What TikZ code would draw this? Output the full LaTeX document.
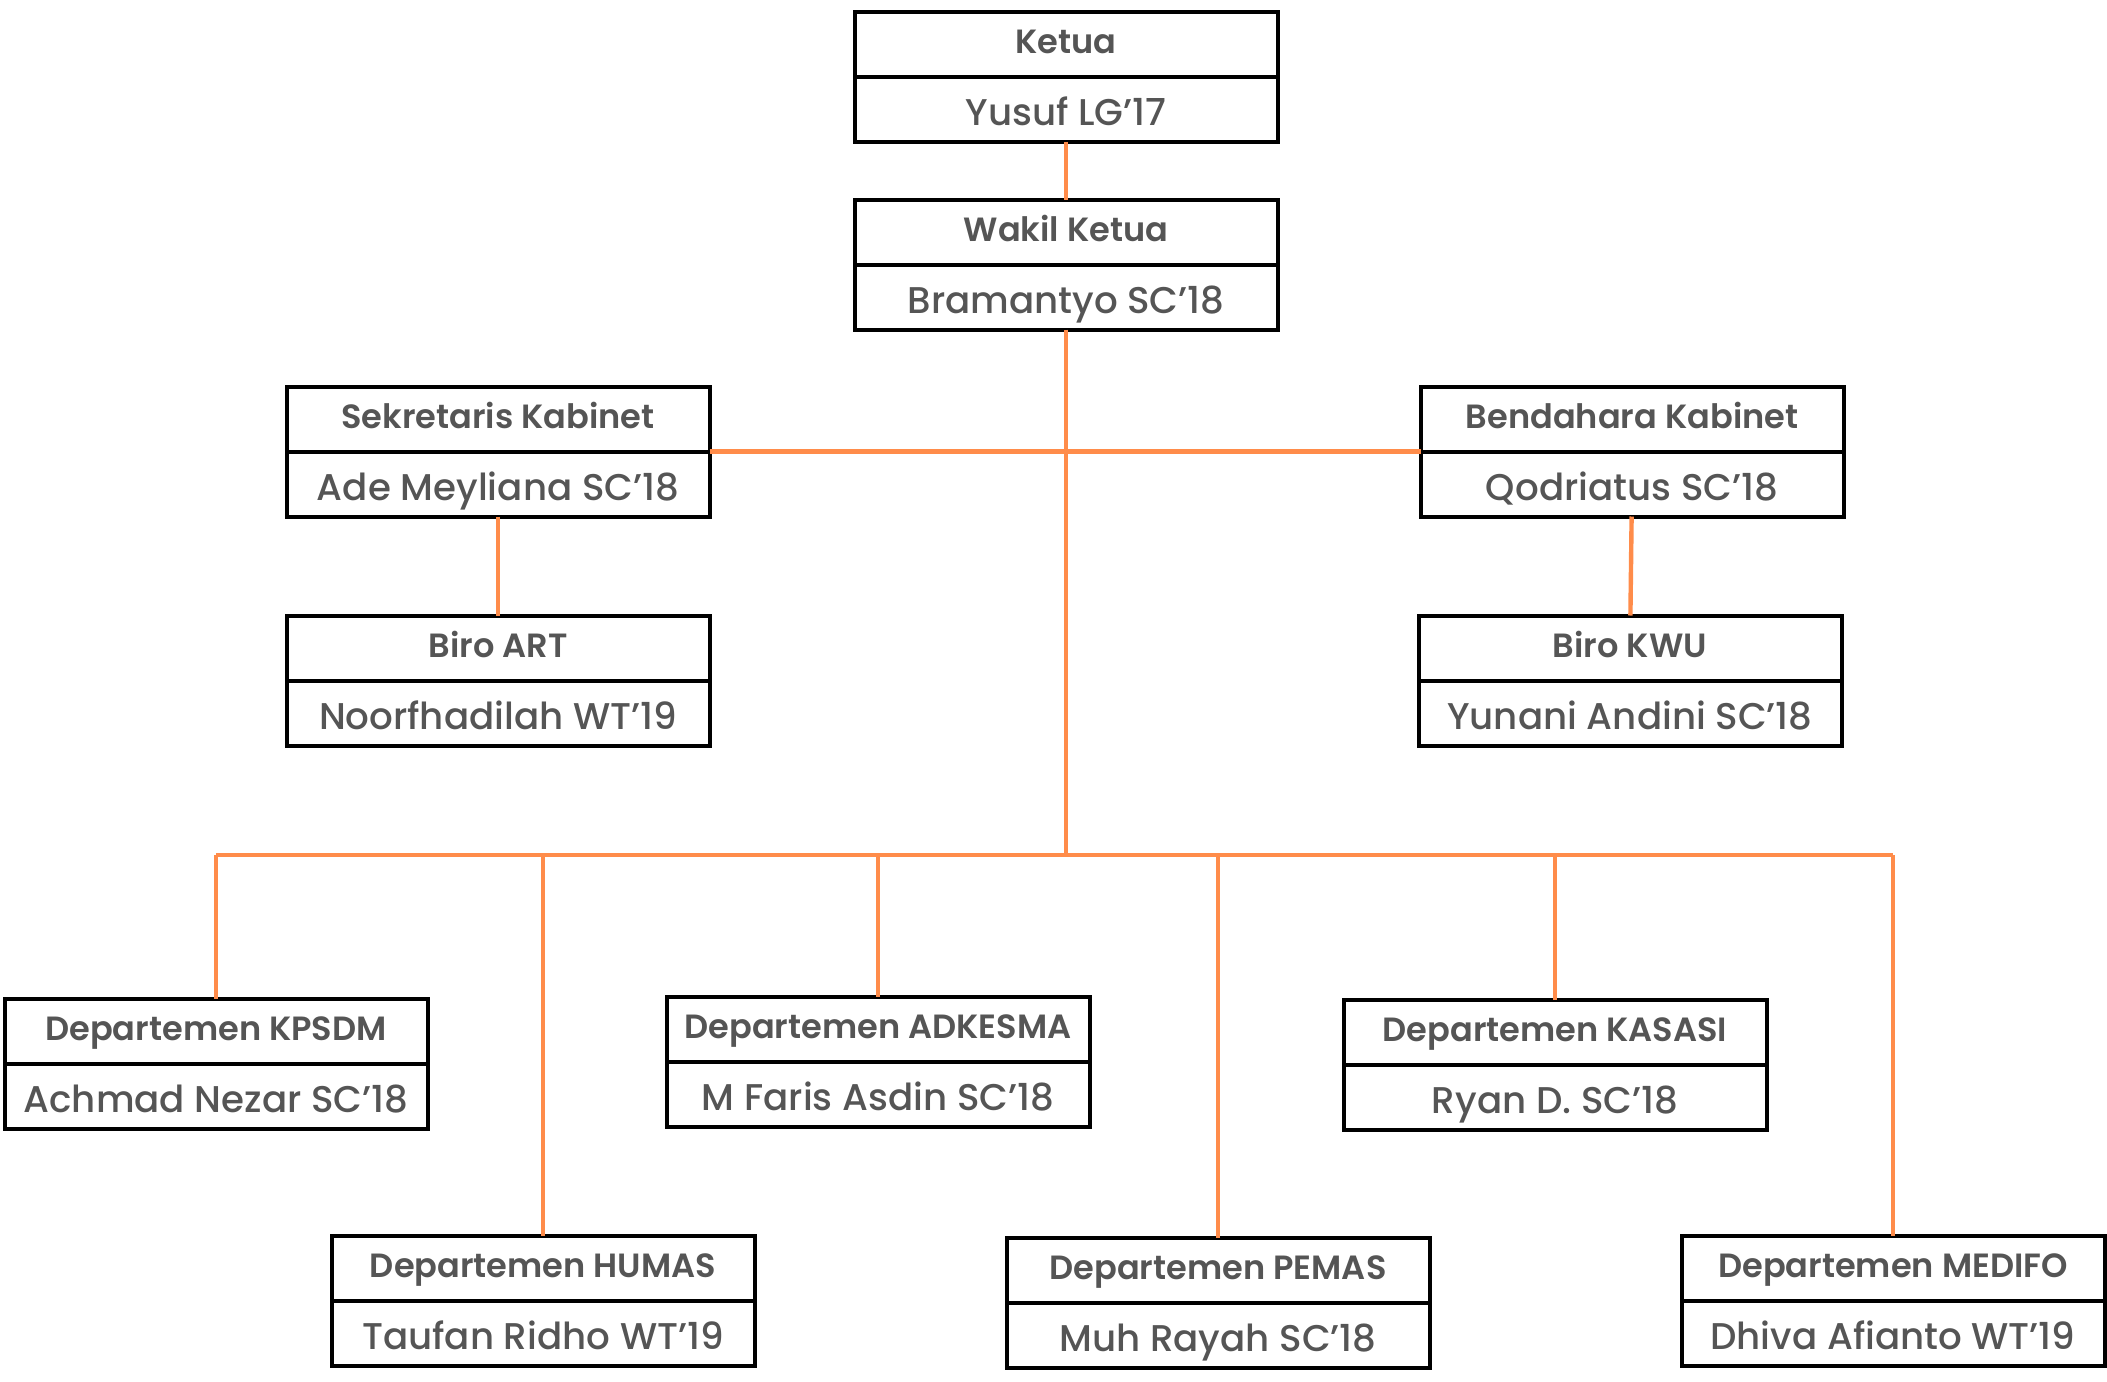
\documentclass[tikz,border=0pt]{standalone}
\usepackage{fontspec}
\setmainfont{Poppins}
\newfontfamily\namefont{Poppins Medium}
\newfontfamily\headfont{Poppins SemiBold}
\usetikzlibrary{positioning}

\definecolor{linkorange}{HTML}{FF8C4A}
\definecolor{textgray}{HTML}{555555}

\begin{document}
\begin{tikzpicture}[x=0.5pt, y=-0.5pt,
    head/.style={draw, line width=2pt, minimum width=211.5pt, minimum height=32.5pt,
        inner sep=0pt, outer sep=0pt, text height=9.5pt, text depth=0pt,
        text=textgray, font=\fontsize{16.8}{16.8}\selectfont\headfont},
    member/.style={draw, line width=2pt, minimum width=211.5pt, minimum height=32.5pt,
        inner sep=0pt, outer sep=0pt, text height=16pt, text depth=0pt,
        text=textgray, font=\fontsize{18.6}{18.6}\selectfont\namefont},
    link/.style={draw=linkorange, line width=2.2pt}]
        \useasboundingbox (0,0) rectangle (2107,1381);

        \node[head] (ketua) at (1066,44) {Ketua};
        \node[member, below=0pt of ketua] (ketuaN) {Yusuf LG’17};

        \node[head] (wakil) at (1066,232) {Wakil Ketua};
        \node[member, below=0pt of wakil] (wakilN) {Bramantyo SC’18};

        \node[head] (sekre) at (498,419) {Sekretaris Kabinet};
        \node[member, below=0pt of sekre] (sekreN) {Ade Meyliana SC’18};

        \node[head] (benda) at (1632,419) {Bendahara Kabinet};
        \node[member, below=0pt of benda] (bendaN) {Qodriatus SC’18};

        \node[head] (art) at (498,648) {Biro ART};
        \node[member, below=0pt of art] (artN) {Noorfhadilah WT’19};

        \node[head] (kwu) at (1630,648) {Biro KWU};
        \node[member, below=0pt of kwu] (kwuN) {Yunani Andini SC’18};

        \node[head] (kpsdm) at (216,1031) {Departemen KPSDM};
        \node[member, below=0pt of kpsdm] (kpsdmN) {Achmad Nezar SC’18};

        \node[head] (adkesma) at (878,1029) {Departemen ADKESMA};
        \node[member, below=0pt of adkesma] (adkesmaN) {M Faris Asdin SC’18};

        \node[head] (kasasi) at (1555,1032) {Departemen KASASI};
        \node[member, below=0pt of kasasi] (kasasiN) {Ryan D. SC’18};

        \node[head] (humas) at (543,1268) {Departemen HUMAS};
        \node[member, below=0pt of humas] (humasN) {Taufan Ridho WT’19};

        \node[head] (pemas) at (1218,1270) {Departemen PEMAS};
        \node[member, below=0pt of pemas] (pemasN) {Muh Rayah SC’18};

        \node[head] (medifo) at (1893,1268) {Departemen MEDIFO};
        \node[member, below=0pt of medifo] (medifoN) {Dhiva Afianto WT’19};

        \coordinate (bus) at (1066,855);
        \coordinate (busL) at (216,855);
        \coordinate (busR) at (1893,855);

        \draw[link] (ketuaN) -- (wakil);
        \draw[link] (wakilN) -- (bus);
        \draw[link] (sekre.south east) -- (benda.south west);
        \draw[link] (sekreN) -- (art);
        \draw[link] (bendaN) -- (kwu);
        \draw[link] (busL) -- (busR);

        \draw[link] (busL) -- (kpsdm);
        \draw[link] (humas.north |- bus) -- (humas);
        \draw[link] (adkesma.north |- bus) -- (adkesma);
        \draw[link] (pemas.north |- bus) -- (pemas);
        \draw[link] (kasasi.north |- bus) -- (kasasi);
        \draw[link] (busR) -- (medifo);
    \end{tikzpicture}
\end{document}
